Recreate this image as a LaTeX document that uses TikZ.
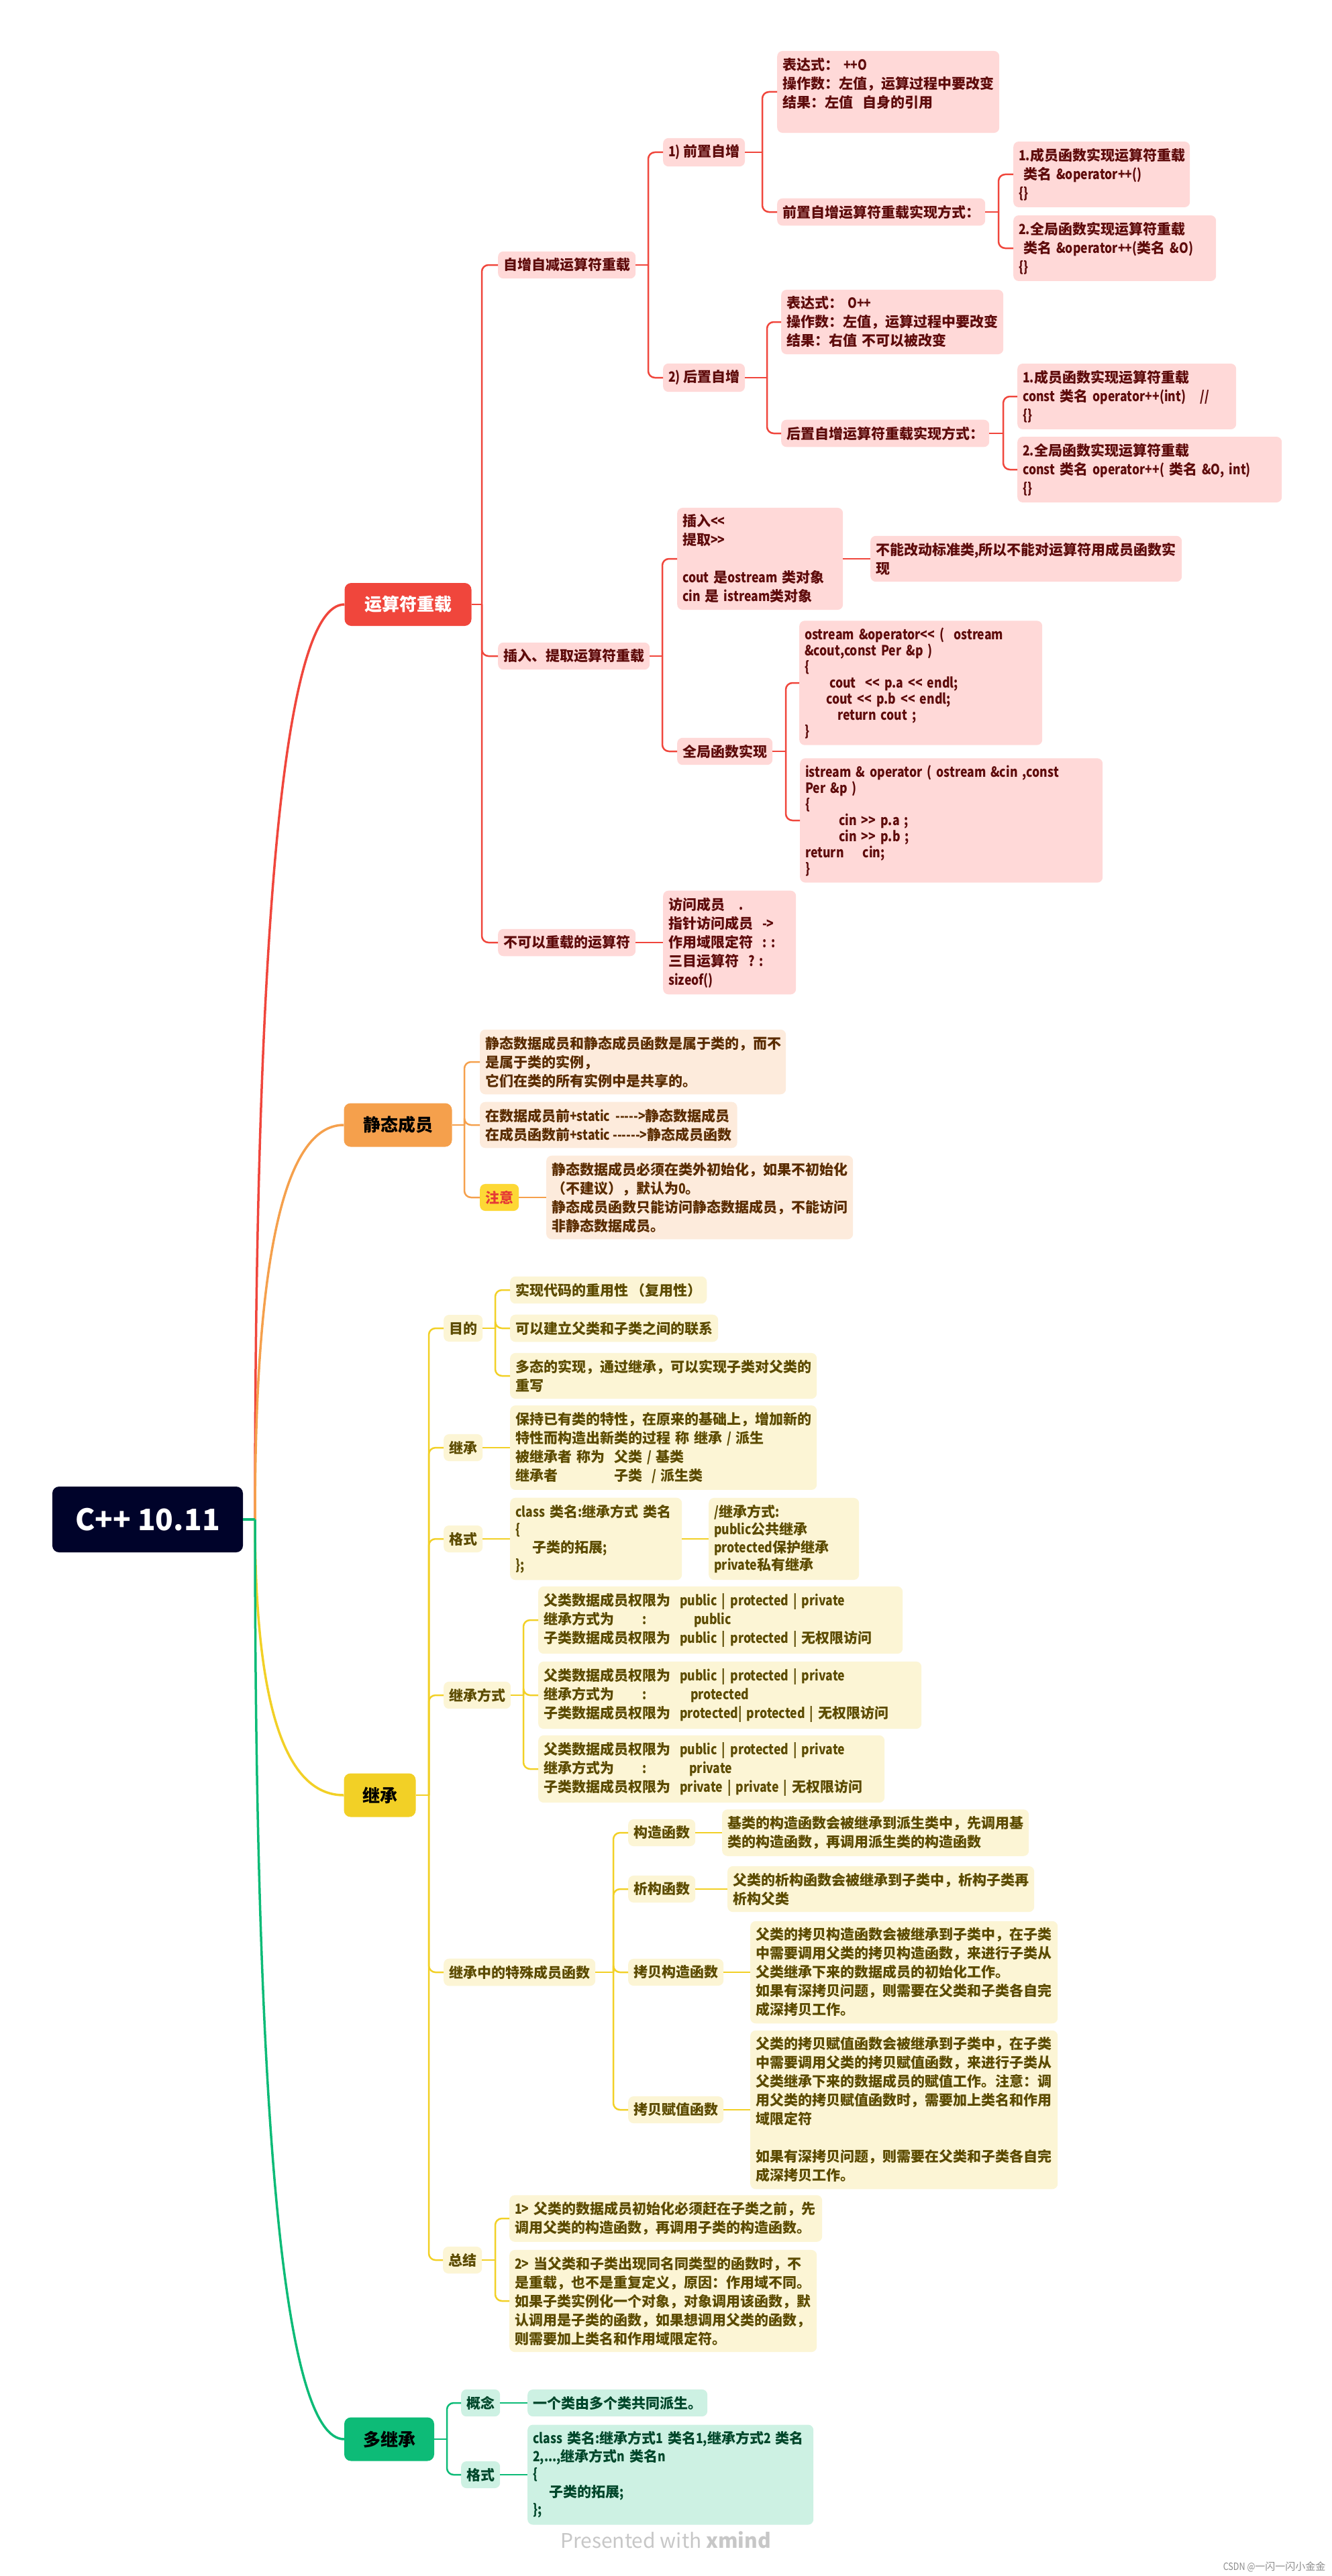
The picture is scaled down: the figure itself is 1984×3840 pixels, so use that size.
\documentclass[tikz,border=0pt]{standalone}
\usepackage{fontspec}
\setmainfont{Noto Sans CJK SC}[Ligatures=TeXOff,FakeStretch=0.84]
\newfontfamily\cjkfam{Noto Sans CJK SC}[Ligatures=TeXOff]
\newfontfamily\latfam{Noto Sans CJK SC}[Ligatures=TeXOff,FakeStretch=0.84]
\XeTeXinterchartokenstate=1
\newXeTeXintercharclass\cjkcls
\newcount\cjkc
\cjkc="3000
\loop\XeTeXcharclass\cjkc=\cjkcls \advance\cjkc by 1 \ifnum\cjkc<"A000 \repeat
\cjkc="FF00
\loop\XeTeXcharclass\cjkc=\cjkcls \advance\cjkc by 1 \ifnum\cjkc<"FFF0 \repeat
\XeTeXinterchartoks 0 \cjkcls = {\cjkfam}
\XeTeXinterchartoks 4095 \cjkcls = {\cjkfam}
\XeTeXinterchartoks \cjkcls 0 = {\latfam}
\XeTeXinterchartoks \cjkcls 4095 = {\latfam}
\definecolor{rootbg}{HTML}{00032A}
\definecolor{redln}{HTML}{F0463C}
\definecolor{redlt}{HTML}{FFD9D8}
\definecolor{redtx}{HTML}{5E0B0B}
\definecolor{orgln}{HTML}{F5A04C}
\definecolor{orglt}{HTML}{FDEBDC}
\definecolor{orgtx}{HTML}{5A2C00}
\definecolor{ylwln}{HTML}{F2D026}
\definecolor{ylwlt}{HTML}{FCF5D5}
\definecolor{ylwtx}{HTML}{5C4B00}
\definecolor{grnln}{HTML}{0DBB77}
\definecolor{grnlt}{HTML}{CDF1E3}
\definecolor{grntx}{HTML}{00472B}
\definecolor{notebg}{HTML}{FDD835}
\definecolor{notetx}{HTML}{E53935}
\begin{document}
\begin{tikzpicture}[x=1pt,y=-1pt,
  box/.style={rounded corners=8pt,inner xsep=8pt,inner ysep=10pt,anchor=west,align=left,
    font=\fontsize{21}{28}\selectfont\bfseries},
  codebox/.style={box,font=\fontsize{21}{24}\selectfont\bfseries},
  classbox/.style={box,font=\fontsize{21}{26.5}\selectfont\bfseries},
  topic/.style={rounded corners=10pt,inner sep=0pt,align=center,
    font=\fontsize{26}{30}\selectfont\bfseries},
  rbox/.style={fill=redlt,text=redtx},
  obox/.style={fill=orglt,text=orgtx},
  ybox/.style={fill=ylwlt,text=ylwtx},
  gbox/.style={fill=grnlt,text=grntx},
  link/.style={line width=2.5pt,rounded corners=10pt},
  trunk/.style={line width=3.5pt},
]
\fill[white] (0,0) rectangle (1984,3840);
\useasboundingbox (0,0) rectangle (1984,3840);

\node[topic,fill=rootbg,text=white,minimum width=284pt,minimum height=98pt,
  font=\cjkfam\fontsize{44}{50}\selectfont\bfseries] (root) at (220,2265) {C++ 10.11};
\coordinate (rootS) at (380,2265);

\node[topic,fill=redln,text=white,minimum width=189pt,minimum height=64pt] (op) at (608,901) {运算符重载};
\node[topic,fill=orgln,text=black,minimum width=161pt,minimum height=65pt] (st) at (593,1677) {静态成员};
\node[topic,fill=ylwln,text=black,minimum width=107pt,minimum height=65pt] (inh) at (566,2676) {继承};
\node[topic,fill=grnln,text=black,minimum width=134pt,minimum height=65pt] (mi) at (580,3636) {多继承};

\draw[trunk,draw=redln] (rootS) .. controls (380,1356) and (425,901) .. (op.west);
\draw[trunk,draw=orgln] (rootS) .. controls (380,1873) and (424,1677) .. (st.west);
\draw[trunk,draw=ylwln] (rootS) .. controls (380,2539) and (424,2676) .. (inh.west);
\draw[trunk,draw=grnln] (rootS) .. controls (380,3179) and (424,3636) .. (mi.west);
\draw[trunk,draw=grnln] (root.east) -- (rootS);

% operator overloading
\node[box,rbox] (inc) at (742,395) {自增自减运算符重载};
\node[box,rbox] (io) at (742,978) {插入、提取运算符重载};
\node[box,rbox] (no) at (742,1405) {不可以重载的运算符};
\node[box,rbox] (pre) at (988,227) {1)~前置自增};
\node[box,rbox] (post) at (988,563) {2)~后置自增};
\node[box,rbox,text width=315pt] (preA) at (1158,137) {表达式：~++O\\操作数：左值，运算过程中要改变\\结果：左值~~自身的引用\\\mbox{}};
\node[box,rbox] (preB) at (1158,316) {前置自增运算符重载实现方式：};
\node[box,rbox,text width=247pt] (preB1) at (1510,260) {1.成员函数实现运算符重载\\~类名 \&operator++()\\\{\}};
\node[box,rbox,text width=286pt] (preB2) at (1510,370) {2.全局函数实现运算符重载\\~类名 \&operator++(类名 \&O)\\\{\}};
\node[box,rbox,text width=315pt] (postA) at (1164,480) {表达式：~O++\\操作数：左值，运算过程中要改变\\结果：右值 不可以被改变};
\node[box,rbox] (postB) at (1164,646) {后置自增运算符重载实现方式：};
\node[box,rbox,text width=310pt] (postB1) at (1516,591) {1.成员函数实现运算符重载\\const 类名 operator++(int)~~~//\\\{\}};
\node[box,rbox,text width=378pt] (postB2) at (1516,700) {2.全局函数实现运算符重载\\const 类名 operator++( 类名 \&O, int)\\\{\}};
\node[box,rbox,text width=231pt] (ioA) at (1009,833) {插入<{}<\\提取>{}>\\\mbox{}\\cout 是ostream 类对象\\cin 是 istream类对象};
\node[box,rbox,text width=448pt] (ioB) at (1297,833) {不能改动标准类,所以不能对运算符用成员函数实\\现};
\node[box,rbox] (ioC) at (1009,1120) {全局函数实现};
\node[codebox,rbox,text width=346pt] (ioC1) at (1191,1018) {ostream \&operator<{}< (~~ostream\\\&cout,const Per \&p )\\\{\\\hspace*{37pt}cout~~<{}< p.a <{}< endl;\\\hspace*{32pt}cout <{}< p.b <{}< endl;\\\hspace*{49pt}return cout ;\\\}};
\node[codebox,rbox,text width=435pt] (ioC2) at (1192,1223) {istream \& operator ( ostream \&cin ,const\\Per \&p )\\\{\\\hspace*{50pt}cin >{}> p.a ;\\\hspace*{50pt}cin >{}> p.b ;\\return~~~~cin;\\\}};
\node[box,rbox,text width=182pt] (noA) at (988,1405) {访问成员~~~.\\指针访问成员~~->\\作用域限定符~~:~:\\三目运算符~~?~:\\sizeof()};

\coordinate (opJ) at (718,901);
\coordinate (incJ) at (966,395);
\coordinate (preJ) at (1136,227);
\coordinate (preBJ) at (1488,316);
\coordinate (postJ) at (1143,563);
\coordinate (postBJ) at (1495,646);
\coordinate (ioJ) at (987,978);
\coordinate (ioCJ) at (1171,1120);
\draw[link,draw=redln] (op.east) -- (opJ);
\foreach \n in {inc,io,no} \draw[link,draw=redln] (opJ) |- (\n.west);
\draw[link,draw=redln] (inc.east) -- (incJ);
\foreach \n in {pre,post} \draw[link,draw=redln] (incJ) |- (\n.west);
\draw[link,draw=redln] (pre.east) -- (preJ);
\foreach \n in {preA,preB} \draw[link,draw=redln] (preJ) |- (\n.west);
\draw[link,draw=redln] (preB.east) -- (preBJ);
\foreach \n in {preB1,preB2} \draw[link,draw=redln] (preBJ) |- (\n.west);
\draw[link,draw=redln] (post.east) -- (postJ);
\foreach \n in {postA,postB} \draw[link,draw=redln] (postJ) |- (\n.west);
\draw[link,draw=redln] (postB.east) -- (postBJ);
\foreach \n in {postB1,postB2} \draw[link,draw=redln] (postBJ) |- (\n.west);
\draw[link,draw=redln] (io.east) -- (ioJ);
\foreach \n in {ioA,ioC} \draw[link,draw=redln] (ioJ) |- (\n.west);
\draw[link,draw=redln] (ioA.east) -- (ioB.west);
\draw[link,draw=redln] (ioC.east) -- (ioCJ);
\foreach \n in {ioC1,ioC2} \draw[link,draw=redln] (ioCJ) |- (\n.west);
\draw[link,draw=redln] (no.east) -- (noA.west);

% static members
\node[box,obox,text width=440pt] (stA) at (715,1583) {静态数据成员和静态成员函数是属于类的，而不\\是属于类的实例，\\它们在类的所有实例中是共享的。};
\node[box,obox] (stB) at (715,1677) {在数据成员前+static~~----->静态数据成员\\在成员函数前+static ------>静态成员函数};
\node[box,fill=notebg,text=notetx] (stC) at (715,1785) {注意};
\node[box,obox,text width=441pt] (stD) at (814,1785) {静态数据成员必须在类外初始化，如果不初始化\\（不建议），默认为0。\\静态成员函数只能访问静态数据成员，不能访问\\非静态数据成员。};
\coordinate (stJ) at (692,1677);
\draw[link,draw=orgln] (st.east) -- (stJ);
\foreach \n in {stA,stB,stC} \draw[link,draw=orgln] (stJ) |- (\n.west);
\draw[link,draw=orgln] (stC.east) -- (stD.west);

% inheritance
\node[box,ybox] (aim) at (661,1980) {目的};
\node[box,ybox] (aim1) at (760,1923) {实现代码的重用性 （复用性）};
\node[box,ybox] (aim2) at (760,1980) {可以建立父类和子类之间的联系};
\node[box,ybox,text width=441pt] (aim3) at (760,2051) {多态的实现，通过继承，可以实现子类对父类的\\重写};
\node[box,ybox] (def) at (661,2158) {继承};
\node[box,ybox,text width=441pt] (defA) at (760,2158) {保持已有类的特性，在原来的基础上，增加新的\\特性而构造出新类的过程 称 继承 / 派生\\被继承者 称为~~父类 / 基类\\继承者\hspace*{84pt}子类~~/ 派生类};
\node[box,ybox] (fmt) at (661,2294) {格式};
\node[classbox,ybox,text width=240pt] (fmtA) at (760,2294) {class 类名:继承方式 类名\\\{\\\hspace*{25pt}子类的拓展;\\\};};
\node[classbox,ybox,text width=208pt] (fmtB) at (1056,2294) {/继承方式:\\public公共继承\\protected保护继承\\private私有继承};
\node[box,ybox] (way) at (661,2527) {继承方式};
\node[box,ybox,text width=527pt] (wayA) at (802,2415) {父类数据成员权限为~~public | protected | private\\\makebox[147pt][l]{继承方式为}\makebox[77pt][l]{:}public\\子类数据成员权限为~~public | protected | 无权限访问};
\node[box,ybox,text width=555pt] (wayB) at (802,2527) {父类数据成员权限为~~public | protected | private\\\makebox[147pt][l]{继承方式为}\makebox[72pt][l]{:}protected\\子类数据成员权限为~~protected| protected | 无权限访问};
\node[box,ybox,text width=500pt] (wayC) at (802,2637) {父类数据成员权限为~~public | protected | private\\\makebox[147pt][l]{继承方式为}\makebox[70pt][l]{:}private\\子类数据成员权限为~~private | private | 无权限访问};
\node[box,ybox] (spc) at (661,2940) {继承中的特殊成员函数};
\node[box,ybox] (ctor) at (936,2732) {构造函数};
\node[box,ybox,text width=441pt] (ctorA) at (1076,2732) {基类的构造函数会被继承到派生类中，先调用基\\类的构造函数，再调用派生类的构造函数};
\node[box,ybox] (dtor) at (936,2816) {析构函数};
\node[box,ybox,text width=441pt] (dtorA) at (1084,2816) {父类的析构函数会被继承到子类中，析构子类再\\析构父类};
\node[box,ybox] (cpy) at (936,2940) {拷贝构造函数};
\node[box,ybox,text width=442pt] (cpyA) at (1118,2940) {父类的拷贝构造函数会被继承到子类中，在子类\\中需要调用父类的拷贝构造函数，来进行子类从\\父类继承下来的数据成员的初始化工作。\\如果有深拷贝问题，则需要在父类和子类各自完\\成深拷贝工作。};
\node[box,ybox] (asg) at (936,3145) {拷贝赋值函数};
\node[box,ybox,text width=442pt] (asgA) at (1118,3145) {父类的拷贝赋值函数会被继承到子类中，在子类\\中需要调用父类的拷贝赋值函数，来进行子类从\\父类继承下来的数据成员的赋值工作。注意：调\\用父类的拷贝赋值函数时，需要加上类名和作用\\域限定符\\\mbox{}\\如果有深拷贝问题，则需要在父类和子类各自完\\成深拷贝工作。};
\node[box,ybox] (sum) at (660,3369) {总结};
\node[box,ybox,text width=450pt] (sumA) at (759,3307) {1> 父类的数据成员初始化必须赶在子类之前，先\\调用父类的构造函数，再调用子类的构造函数。};
\node[box,ybox,text width=442pt] (sumB) at (759,3430) {2> 当父类和子类出现同名同类型的函数时，不\\是重载，也不是重复定义，原因：作用域不同。\\如果子类实例化一个对象，对象调用该函数，默\\认调用是子类的函数，如果想调用父类的函数，\\则需要加上类名和作用域限定符。};
\coordinate (inhJ) at (639,2676);
\coordinate (aimJ) at (738,1980);
\coordinate (wayJ) at (780,2527);
\coordinate (spcJ) at (914,2940);
\coordinate (sumJ) at (738,3369);
\draw[link,draw=ylwln] (inh.east) -- (inhJ);
\foreach \n in {aim,def,fmt,way,spc,sum} \draw[link,draw=ylwln] (inhJ) |- (\n.west);
\draw[link,draw=ylwln] (aim.east) -- (aimJ);
\foreach \n in {aim1,aim2,aim3} \draw[link,draw=ylwln] (aimJ) |- (\n.west);
\draw[link,draw=ylwln] (def.east) -- (defA.west);
\draw[link,draw=ylwln] (fmt.east) -- (fmtA.west);
\draw[link,draw=ylwln] (fmtA.east) -- (fmtB.west);
\draw[link,draw=ylwln] (way.east) -- (wayJ);
\foreach \n in {wayA,wayB,wayC} \draw[link,draw=ylwln] (wayJ) |- (\n.west);
\draw[link,draw=ylwln] (spc.east) -- (spcJ);
\foreach \n in {ctor,dtor,cpy,asg} \draw[link,draw=ylwln] (spcJ) |- (\n.west);
\draw[link,draw=ylwln] (ctor.east) -- (ctorA.west);
\draw[link,draw=ylwln] (dtor.east) -- (dtorA.west);
\draw[link,draw=ylwln] (cpy.east) -- (cpyA.west);
\draw[link,draw=ylwln] (asg.east) -- (asgA.west);
\draw[link,draw=ylwln] (sum.east) -- (sumJ);
\foreach \n in {sumA,sumB} \draw[link,draw=ylwln] (sumJ) |- (\n.west);

% multiple inheritance
\node[box,gbox] (cpt) at (687,3582) {概念};
\node[box,gbox] (cptA) at (786,3582) {一个类由多个类共同派生。};
\node[box,gbox] (mfmt) at (687,3689) {格式};
\node[classbox,gbox,text width=410pt] (mfmtA) at (786,3689) {class 类名:继承方式1 类名1,继承方式2 类名\\2,...,继承方式n 类名n\\\{\\\hspace*{24pt}子类的拓展;\\\};};
\coordinate (miJ) at (666,3636);
\draw[link,draw=grnln] (mi.east) -- (miJ);
\foreach \n in {cpt,mfmt} \draw[link,draw=grnln] (miJ) |- (\n.west);
\draw[link,draw=grnln] (cpt.east) -- (cptA.west);
\draw[link,draw=grnln] (mfmt.east) -- (mfmtA.west);

\node[text=black!22,font=\cjkfam\fontsize{30}{34}\selectfont] (wm) at (992,3786) {Presented with \textbf{xmind}};
\node[anchor=east,text=black!45,font=\fontsize{15}{18}\selectfont] (csdn) at (1979,3826) {CSDN @一闪一闪小金金};
\end{tikzpicture}
\end{document}
